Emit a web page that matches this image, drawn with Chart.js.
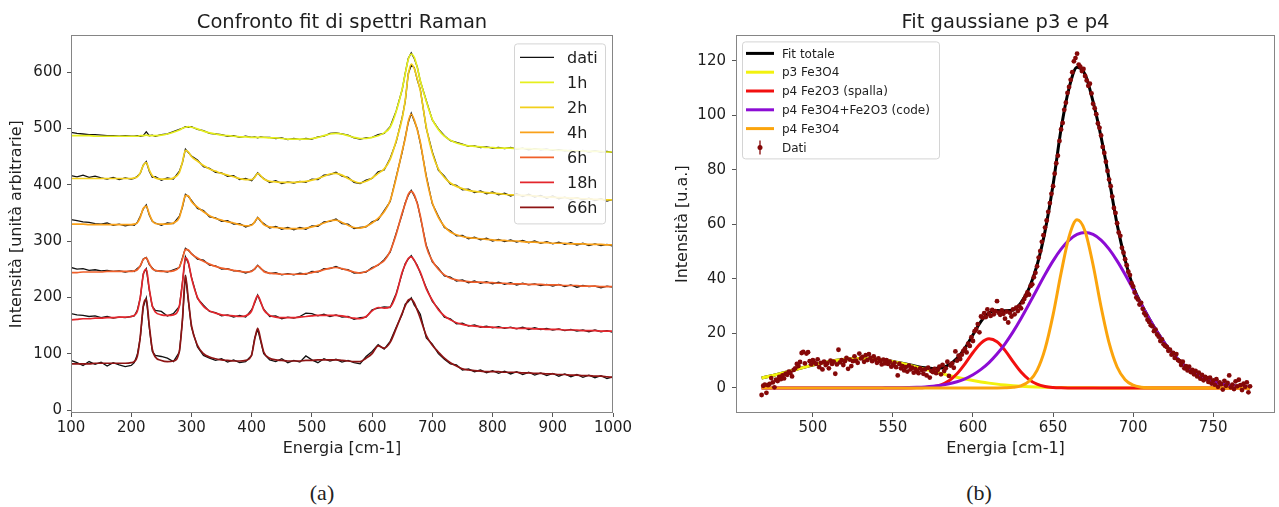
<!DOCTYPE html>
<html lang="it">
<head>
<meta charset="UTF-8">
<title>Spettri Raman - fit</title>
<script src="https://cdn.jsdelivr.net/npm/chart.js"></script>
<style>
  body { margin: 0; background: #fff; width: 1279px; height: 507px; position: relative; overflow: hidden; }
  canvas { position: absolute; top: 0; }
  #ramanChart { left: 0; }
  #fitChart { left: 640px; }
  .caption { position: absolute; top: 480px; line-height: 26px; font-family: 'Liberation Serif', 'DejaVu Serif', serif; font-size: 22px; color: #222; transform: translateX(-50%); }
</style>
</head>
<body>
<canvas id="ramanChart" width="640" height="470"></canvas>
<canvas id="fitChart" width="639" height="470"></canvas>
<div class="caption" style="left:322px">(a)</div>
<div class="caption" style="left:979px">(b)</div>

<script>
// ---- (a) spettri Raman: griglia in energia comune a dati e fit
const energia = [100,110,120,130,140,150,160,170,180,190,200,205,210,215,220,225,230,235,240,250,260,270,280,285,290,295,300,310,320,330,340,350,360,370,380,390,400,405,410,415,420,430,440,450,460,470,480,490,500,510,520,530,540,550,560,570,580,590,600,610,620,630,640,650,655,660,665,670,675,680,690,700,710,720,730,740,750,760,770,780,790,800,810,820,830,840,850,860,870,880,890,900,910,920,930,940,950,960,970,980,990,1000];

const fit1h = [487,487,487,487,486,486,486,486,486,486,486, 486,486,487,487,488,487,487,487, 488,490,493,497, 500,502,503,502, 499,495,492,490,488,487,486,485,485,484, 484,484,484,484, 483,483,482,481,481,481,481,482,484,487,490,491,490,487,484,482,482,484,487,492,502,530,570, 597,622,632,626,608,585, 548,516,498,486,479,474,471,469,468,467,466,466,465,465,465,464,464,464,463,463,462,462,461,461,460,460,460,459,459,459,458,458];
const dati1h = [493,491,490,489,489,488,487,487,486,487,486, 486,487,486,487,494,487,488,486, 489,490,494,498, 500,503,502,503, 498,496,491,490,489,486,487,484,486,484, 485,483,485,484, 484,482,483,480,482,480,482,481,485,486,491,492,490,488,483,481,483,484,489,491,503,531,569, 598,624,634,624,609,584, 549,515,499,487,478,475,472,468,469,466,467,465,466,464,466,463,465,462,464,462,463,461,462,460,461,459,461,458,460,458,459,457];

const fit2h = [411,411,411,411,411,411,411,411,411,411,411, 412,414,421,434,439,426,416,412, 410,410,412,422, 440,461,458,450, 442,434,428,424,420,417,414,411,409,409, 413,420,416,410, 406,405,404,404,404,405,406,408,411,415,419,420,417,411,406,403,406,412,420,428,445,478,518, 550,595,614,606,588,567, 502,456,428,413,403,397,393,390,388,387,386,385,384,383,382,382,381,381,380,379,378,378,377,377,376,376,375,375,374,374,373,373];
const dati2h = [416,414,417,413,415,412,410,413,409,412,410, 411,415,420,435,441,424,413,414, 408,412,410,424, 439,463,457,451, 444,432,429,422,421,415,416,409,411,407, 414,421,415,411, 404,407,402,405,403,406,404,410,409,417,418,422,415,413,404,402,408,411,423,426,447,476,520, 548,597,612,608,586,569, 500,458,426,415,401,399,391,392,386,389,384,387,382,385,380,384,379,383,378,381,376,380,375,378,374,377,373,376,372,375,371,374];

const fit4h = [330,330,330,329,329,329,329,329,329,329,329, 330,332,342,358,362,348,336,331, 330,330,332,342, 362,381,380,370, 360,352,345,340,337,334,332,329,327,328, 334,341,336,329, 325,324,323,322,322,322,323,325,328,332,336,337,333,328,324,323,326,332,340,352,372,412,460, 482,512,525,515,497,476, 413,368,342,326,316,311,308,306,305,304,303,302,301,301,300,300,299,298,298,297,297,296,296,296,295,295,295,294,294,294,293,293];
const dati4h = [338,336,334,333,331,330,332,328,330,327,329, 328,333,344,357,364,346,335,332, 328,332,331,344, 360,383,379,372, 358,354,343,341,335,336,330,331,325,329, 333,342,335,331, 323,326,321,324,320,324,321,327,326,334,335,339,331,330,322,324,325,334,338,354,370,414,458, 484,510,527,513,499,474, 415,366,344,324,318,309,310,304,307,302,305,300,303,299,302,298,301,297,300,296,299,295,298,294,297,293,296,292,295,292,294,291];

const fit6h = [244,244,245,245,245,245,246,246,246,246,246, 247,249,256,267,270,260,251,248, 246,246,247,254, 268,285,284,277, 270,264,259,255,252,250,248,246,245,246, 251,256,252,246, 243,242,241,241,241,241,242,244,246,249,252,253,251,248,245,243,246,251,258,265,282,312,350, 366,383,388,382,366,345, 290,265,250,240,234,231,229,228,227,227,226,226,225,225,224,224,224,223,223,223,222,222,222,221,221,221,220,220,220,219,219,219];
const dati6h = [253,250,251,248,249,247,248,246,247,245,247, 246,251,255,268,271,258,252,247, 247,245,249,253, 270,287,283,278, 268,266,257,256,250,251,247,247,243,247, 250,257,251,247, 242,244,240,242,240,243,241,246,245,251,251,255,250,249,243,244,245,253,257,267,280,314,348, 368,381,390,380,368,343, 292,263,252,238,236,229,231,226,229,225,228,224,227,223,226,222,225,222,224,221,223,220,223,219,222,218,221,219,220,217,220,218];

const fit18h = [160,161,162,162,163,163,164,164,165,165,166, 168,175,200,240,250,215,185,174, 169,168,169,185, 225,270,262,235, 200,184,176,172,169,168,167,166,167,176, 192,203,192,178, 168,165,164,164,164,165,166,167,168,168,168,168,167,165,163,162,166,176,182,181,183,205,245, 258,269,272,266,255,245, 215,195,178,167,160,155,152,150,149,148,147,147,146,146,146,145,145,145,144,144,143,143,143,142,142,142,141,141,141,140,140,140];
const dati18h = [171,169,168,166,167,164,166,163,165,164,166, 167,177,199,242,251,213,184,177, 175,167,171,184, 226,272,260,236, 198,186,175,173,167,169,165,168,165,178, 190,204,191,179, 166,167,162,165,163,166,172,171,167,170,166,169,165,166,161,164,165,178,181,183,182,207,243, 260,268,274,265,257,243, 217,193,180,165,162,153,154,149,151,147,149,146,148,145,147,144,147,143,146,143,145,142,144,141,143,140,142,139,142,139,141,138];

const fit66h = [82,82,82,82,83,83,83,83,83,83,84, 86,95,130,185,197,150,108,94, 88,86,87,105, 160,238,195,150, 115,100,94,91,89,88,87,87,88,98, 125,145,125,103, 92,89,88,87,87,87,88,88,89,89,89,89,88,87,86,86,92,100,114,110,120,145,172, 185,195,197,190,177,163, 132,115,103,92,84,78,73,71,70,69,68,68,68,67,67,67,66,66,65,65,64,64,63,63,62,62,61,61,60,60,59,58];
const dati66h = [88,84,79,86,81,85,78,84,80,77,79, 84,98,128,183,199,146,104,97, 95,92,86,103, 158,240,192,147, 112,97,92,88,91,85,89,84,86,97, 128,143,122,100, 89,86,91,84,88,85,96,89,84,91,87,90,85,88,84,82,95,104,116,108,122,147,170, 188,192,199,186,179,170, 128,117,100,90,82,80,71,73,68,71,66,70,65,69,64,68,63,67,62,66,61,65,60,64,59,63,58,62,57,61,56,59];

const ore = ['1h', '2h', '4h', '6h', '18h', '66h'];
const tickEnergia = [100, 200, 300, 400, 500, 600, 700, 800, 900, 1000];
const tickIntensita = [0, 100, 200, 300, 400, 500, 600];

// ---- (b) fit gaussiano della zona p3-p4
const energiaFit = [468,470,475,480,485,490,495,500,505,510,515,520,525,530,535,540,545,550,555,560,565,570,575,580,585,590,595,600,605,610,615,620,625,630,635,640,645,650,655,660,665,670,675,680,685,690,695,700,705,710,715,720,725,730,735,740,745,750,755,760,765,770,773];
const fitTotale = [3.63,3.89,4.58,5.32,6.08,6.86,7.63,8.37,9.05,9.64,10.13,10.5,10.72,10.8,10.72,10.5,10.15,9.68,9.12,8.51,7.89,7.37,7.11,7.3,8.5,10.9,14.6,19.5,24.4,27.6,28.4,28.3,28.6,31.3,36.5,45,57.5,74.5,95,110,117.6,115,105,92,76.5,60,47,37.2,30.9,25.5,20.55,16.18,12.42,9.29,6.79,4.83,3.35,2.27,1.5,0.96,0.6,0.37,0.27];
const p3Fe3O4 = [3.63,3.89,4.58,5.32,6.08,6.86,7.63,8.37,9.05,9.64,10.13,10.5,10.72,10.8,10.72,10.5,10.13,9.64,9.05,8.37,7.63,6.86,6.08,5.32,4.58,3.89,3.26,2.69,2.19,1.76,1.39,1.09,0.84,0.64,0.47,0.35,0.25,0.18,0.12,0.08,0.06,0.04,0.02,0.01,0,0,0,0,0,0,0,0,0,0,0,0,0,0,0,0,0,0,0];
const p4Fe2O3 = [0,0,0,0,0,0,0,0,0,0,0,0,0,0,0,0,0,0,0,0.01,0.04,0.14,0.43,1.15,2.63,5.19,8.84,12.99,16.46,18,16.95,13.78,9.66,5.85,3.05,1.37,0.53,0.18,0.05,0.01,0,0,0,0,0,0,0,0,0,0,0,0,0,0,0,0,0,0,0,0,0,0,0];
const p4Code = [0,0,0,0,0,0,0,0,0,0,0,0,0,0,0,0,0.02,0.04,0.07,0.13,0.22,0.37,0.6,0.96,1.5,2.27,3.35,4.83,6.79,9.29,12.42,16.18,20.55,25.46,30.75,36.22,41.61,46.6,50.89,54.2,56.29,57,56.29,54.2,50.89,46.6,41.61,36.22,30.75,25.46,20.55,16.18,12.42,9.29,6.79,4.83,3.35,2.27,1.5,0.96,0.6,0.37,0.27];
const p4Fe3O4 = [0,0,0,0,0,0,0,0,0,0,0,0,0,0,0,0,0,0,0,0,0,0,0,0,0,0,0,0,0,0,0,0.05,0.21,0.78,2.44,6.45,14.35,26.8,42.1,55.5,61.65,57.5,45.1,29.7,16.5,7.67,3.01,0.99,0.27,0.06,0,0,0,0,0,0,0,0,0,0,0,0,0];

const energiaDati = [468,469,470,471,472,473,474,475,476,477,478,479,480,481,482,483,484,485,486,487,488,489,490,491,492,493,494,495,496,497,498,499,500,501,502,503,504,505,506,507,508,509,510,511,512,513,514,515,516,517,518,519,520,521,522,523,524,525,526,527,528,529,530,531,532,533,534,535,536,537,538,539,540,541,542,543,544,545,546,547,548,549,550,551,552,553,554,555,556,557,558,559,560,561,562,563,564,565,566,567,568,569,570,571,572,573,574,575,576,577,578,579,580,581,582,583,584,585,586,587,588,589,590,591,592,593,594,595,596,597,598,599,600,601,602,603,604,605,606,607,608,609,610,611,612,613,614,615,616,617,618,619,620,621,622,623,624,625,626,627,628,629,630,631,632,633,634,635,636,637,638,639,640,641,642,643,644,645,646,647,648,649,650,651,652,653,654,655,656,657,658,659,660,661,662,663,664,665,666,667,668,669,670,671,672,673,674,675,676,677,678,679,680,681,682,683,684,685,686,687,688,689,690,691,692,693,694,695,696,697,698,699,700,701,702,703,704,705,706,707,708,709,710,711,712,713,714,715,716,717,718,719,720,721,722,723,724,725,726,727,728,729,730,731,732,733,734,735,736,737,738,739,740,741,742,743,744,745,746,747,748,749,750,751,752,753,754,755,756,757,758,759,760,761,762,763,764,765,766,767,768,769,770,771,772,773];
const intensitaDati = [
  -2.6,0.8,1.2,-1.8,1.0,1.5,3.6,2.0,0.2,3.0,
  2.5,4.0,3.2,4.6,3.5,5.2,4.8,6.0,5.5,4.2,
  6.6,7.2,8.8,8.0,9.5,12.8,13.2,9.0,12.6,13.1,
  9.8,8.6,10.2,9.4,8.8,10.5,7.6,9.2,6.8,9.6,
  8.4,9.0,7.2,10.0,8.8,9.6,5.2,8.6,14.0,9.4,
  10.2,8.4,9.8,11.0,7.0,10.4,8.0,9.8,11.6,10.0,
  9.2,12.6,10.8,11.4,9.6,12.0,10.2,12.4,11.0,9.8,
  11.6,10.4,9.2,10.8,9.8,8.6,10.4,9.0,10.2,8.8,
  9.6,7.8,8.4,9.2,7.6,4.6,8.8,7.2,8.0,6.4,
  7.6,6.0,8.2,6.8,7.4,5.6,7.0,6.2,5.4,7.2,
  6.6,5.2,6.8,4.6,7.4,3.8,6.2,5.8,7.0,5.4,
  6.6,7.8,5.0,8.4,6.2,7.2,9.6,4.4,8.2,9.0,
  7.4,13.4,10.0,11.8,10.6,12.2,13.6,14.4,13.0,16.2,
  15.4,18.6,17.2,20.8,21.6,23.4,20.4,26.2,25.8,27.4,
  26.0,28.8,27.2,26.4,28.6,27.0,28.2,31.8,27.6,26.8,
  28.4,27.2,25.4,28.0,24.0,27.6,26.2,28.8,27.0,29.4,
  28.2,30.0,29.2,31.4,32.6,33.8,35.0,34.2,37.4,38.0,
  40.6,42.2,44.6,47.8,50.2,53.6,56.0,58.8,61.4,64.6,
  67.8,71.2,74.0,78.6,82.4,85.2,90.6,94.8,97.2,102.0,
  104.6,108.2,110.4,113.0,115.8,119.8,121.0,122.6,118.6,117.8,
  116.2,117.0,114.4,112.8,110.8,111.6,108.0,104.2,102.6,100.4,
  97.0,95.4,92.6,88.4,86.2,83.0,79.6,76.4,74.0,70.2,
  66.0,64.2,60.4,57.0,55.8,51.4,49.6,47.2,45.0,42.6,
  41.4,38.4,37.2,35.0,33.2,32.4,30.6,31.2,29.0,27.4,
  26.6,25.0,24.2,23.0,22.6,20.8,21.4,19.6,18.8,17.2,
  17.8,16.0,15.4,15.0,13.6,14.0,12.2,12.8,11.0,12.4,
  10.2,9.8,8.4,9.6,7.2,8.0,6.4,7.8,5.8,6.6,
  5.0,6.2,4.2,5.6,3.4,4.8,2.8,4.0,3.6,2.2,
  3.8,1.6,2.8,1.2,3.2,0.4,2.0,1.4,-0.6,2.6,
  0.8,1.8,4.6,0.2,1.2,-0.4,2.4,0.6,3.0,1.0,
  -0.8,1.6,0.4,2.0,-1.6,0.6
];
const tickEnergiaFit = [500, 550, 600, 650, 700, 750];
const tickIntensitaFit = [0, 20, 40, 60, 80, 100, 120];

// ---- stile
const famiglia = "'DejaVu Sans', sans-serif";
const testo = '#1e1e1e';
const coloriOre = ['#e6ef1e', '#f2d01c', '#f9a11a', '#f0602a', '#e3262c', '#8e1414'];
Chart.defaults.font.family = famiglia;
Chart.defaults.color = testo;

const punti = (xs, ys) => xs.map((x, i) => ({ x, y: ys[i] }));

// cornice completa attorno all'area del grafico
const cornice = {
  id: 'cornice',
  afterDatasetsDraw(chart) {
    const { ctx, chartArea: a } = chart;
    ctx.save();
    ctx.strokeStyle = '#858585';
    ctx.lineWidth = 1;
    ctx.strokeRect(Math.round(a.left) + 0.5, Math.round(a.top) + 0.5,
      Math.round(a.right - a.left) - 1, Math.round(a.bottom - a.top) - 1);
    ctx.restore();
  }
};

// legenda dentro l'area del grafico, con riquadro arrotondato
const legendaInterna = {
  id: 'legendaInterna',
  afterDraw(chart, args, o) {
    if (!o.items) return;
    const { ctx, chartArea: a } = chart;
    const x0 = o.anchor === 'right' ? a.right - o.offsetX - o.width : a.left + o.offsetX;
    const y0 = a.top + o.offsetY;
    ctx.save();
    ctx.beginPath();
    ctx.roundRect(x0 + 0.5, y0 + 0.5, o.width, o.height, 3);
    ctx.fillStyle = 'rgba(255,255,255,0.85)';
    ctx.fill();
    ctx.strokeStyle = '#d4d4d4';
    ctx.lineWidth = 1;
    ctx.stroke();
    ctx.font = o.font;
    ctx.textBaseline = 'middle';
    o.items.forEach((it, i) => {
      const y = y0 + o.firstRow + i * o.rowH;
      const hx = x0 + o.handleX;
      if (it.errorbar) {
        const cx = hx + o.handleW / 2;
        ctx.strokeStyle = it.color;
        ctx.lineWidth = 1.3;
        ctx.beginPath(); ctx.moveTo(cx, y - 7); ctx.lineTo(cx, y + 7); ctx.stroke();
        ctx.fillStyle = it.color;
        ctx.beginPath(); ctx.arc(cx, y, 2.5, 0, Math.PI * 2); ctx.fill();
      } else {
        ctx.strokeStyle = it.color;
        ctx.lineWidth = it.width;
        ctx.beginPath(); ctx.moveTo(hx, y); ctx.lineTo(hx + o.handleW, y); ctx.stroke();
      }
      ctx.fillStyle = testo;
      ctx.fillText(it.text, x0 + o.textX, y + 1);
    });
    ctx.restore();
  }
};

function asse(min, max, valori, opz) {
  return {
    type: 'linear', min, max,
    afterBuildTicks: s => { s.ticks = valori.map(v => ({ value: v })); },
    afterFit: opz.fit,
    border: { display: false },
    grid: { display: true, drawOnChartArea: false, drawTicks: true, tickLength: 4, color: '#555' },
    ticks: { font: { size: opz.size }, color: testo, padding: opz.pad, autoSkip: false, maxRotation: 0, callback: v => String(v) },
    title: { display: true, text: opz.title, font: { size: 16 }, color: testo, padding: opz.titlePad }
  };
}

// ---- grafico (a)
const datasetsRaman = [];
[dati1h, dati2h, dati4h, dati6h, dati18h, dati66h].forEach(d => {
  datasetsRaman.push({ label: 'dati', data: punti(energia, d), borderColor: '#111', borderWidth: 1.3, pointRadius: 0, order: 2 });
});
[fit1h, fit2h, fit4h, fit6h, fit18h, fit66h].forEach((f, k) => {
  datasetsRaman.push({ label: ore[k], data: punti(energia, f), borderColor: coloriOre[k], borderWidth: 1.7, pointRadius: 0, cubicInterpolationMode: 'monotone', order: 1 });
});

new Chart(document.getElementById('ramanChart'), {
  type: 'line',
  data: { datasets: datasetsRaman },
  options: {
    responsive: false, animation: false, events: [],
    layout: { padding: { left: 0, right: 27, top: 0, bottom: 0 } },
    scales: {
      x: asse(100, 1000, tickEnergia, { size: 15, pad: 2, title: 'Energia [cm-1]', titlePad: { top: 0, bottom: 12 }, fit: s => { s.height = 57; } }),
      y: asse(-5.3, 665, tickIntensita, { size: 15, pad: 5, title: 'Intensità [unità arbitrarie]', titlePad: { top: 7, bottom: 0 }, fit: s => { s.width = 71; } })
    },
    plugins: {
      legend: { display: false },
      tooltip: { enabled: false },
      title: { display: true, fullSize: false, text: 'Confronto fit di spettri Raman', font: { size: 19.5, weight: 'normal' }, color: testo, padding: { top: 11, bottom: 1 } },
      legendaInterna: {
        anchor: 'right', offsetX: 8, offsetY: 8, width: 91, height: 180,
        firstRow: 14, rowH: 25, handleX: 6, handleW: 34, textX: 53, font: '16px ' + famiglia,
        items: [{ text: 'dati', color: '#111', width: 1.2 }].concat(ore.map((h, k) => ({ text: h, color: coloriOre[k], width: 1.7 })))
      }
    }
  },
  plugins: [cornice, legendaInterna]
});

// ---- grafico (b)
const stileFit = { pointRadius: 0, borderWidth: 3, cubicInterpolationMode: 'monotone' };
new Chart(document.getElementById('fitChart'), {
  type: 'line',
  data: {
    datasets: [
      { label: 'Dati', data: punti(energiaDati, intensitaDati), showLine: false, pointRadius: 2.4, pointBorderWidth: 0, pointBackgroundColor: '#850808', order: 0 },
      { label: 'p4 Fe3O4', data: punti(energiaFit, p4Fe3O4), borderColor: '#fba40c', ...stileFit, order: 1 },
      { label: 'p4 Fe3O4+Fe2O3 (code)', data: punti(energiaFit, p4Code), borderColor: '#8c0cd4', ...stileFit, order: 2 },
      { label: 'p4 Fe2O3 (spalla)', data: punti(energiaFit, p4Fe2O3), borderColor: '#f21010', ...stileFit, order: 3 },
      { label: 'p3 Fe3O4', data: punti(energiaFit, p3Fe3O4), borderColor: '#f2f20e', ...stileFit, order: 4 },
      { label: 'Fit totale', data: punti(energiaFit, fitTotale), borderColor: '#000', ...stileFit, order: 5 }
    ]
  },
  options: {
    responsive: false, animation: false, events: [],
    layout: { padding: { left: 0, right: 1, top: 0, bottom: 0 } },
    scales: {
      x: asse(452, 788.6, tickEnergiaFit, { size: 15, pad: 2, title: 'Energia [cm-1]', titlePad: { top: 0, bottom: 12 }, fit: s => { s.height = 57; } }),
      y: asse(-9.2, 129.3, tickIntensitaFit, { size: 15, pad: 6, title: 'Intensità [u.a.]', titlePad: { top: 33, bottom: 0 }, fit: s => { s.width = 96; } })
    },
    plugins: {
      legend: { display: false },
      tooltip: { enabled: false },
      title: { display: true, fullSize: false, text: 'Fit gaussiane p3 e p4', font: { size: 19.5, weight: 'normal' }, color: testo, padding: { top: 11, bottom: 1 } },
      legendaInterna: {
        anchor: 'left', offsetX: 6, offsetY: 6, width: 197, height: 117,
        firstRow: 12, rowH: 18.8, handleX: 4, handleW: 28, textX: 40, font: '12px ' + famiglia,
        items: [
          { text: 'Fit totale', color: '#000', width: 3 },
          { text: 'p3 Fe3O4', color: '#f2f20e', width: 3 },
          { text: 'p4 Fe2O3 (spalla)', color: '#f21010', width: 3 },
          { text: 'p4 Fe3O4+Fe2O3 (code)', color: '#8c0cd4', width: 3 },
          { text: 'p4 Fe3O4', color: '#fba40c', width: 3 },
          { text: 'Dati', color: '#850808', errorbar: true }
        ]
      }
    }
  },
  plugins: [cornice, legendaInterna]
});
</script>
</body>
</html>
